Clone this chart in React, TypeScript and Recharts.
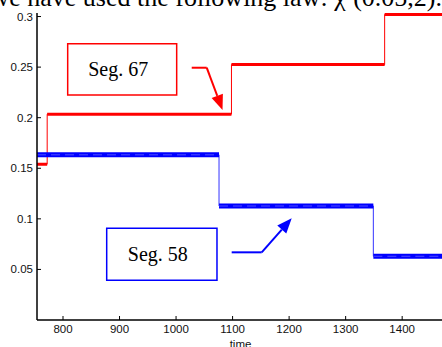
import { LineChart, Line, XAxis, YAxis, ReferenceArea, ReferenceLine } from 'recharts';

// step levels (time where each level starts, then the level)
const redTimes = [754, 772, 1098, 1369, 1474];
const redValues = [0.154, 0.2035, 0.2525, 0.302];
const blueTimes = [754, 1076, 1349, 1474];
const blueValues = [0.1633, 0.1127, 0.063];

const xTicks = [800, 900, 1000, 1100, 1200, 1300, 1400];
const yTicks = [0.05, 0.1, 0.15, 0.2, 0.25, 0.3];

const xDomain = [754, 1474];
const yDomain = [0, 0.3035];

type Pt = { t: number; v: number | null };

// thin connected staircase
function stepPoints(times: number[], values: number[]): Pt[] {
  const pts: Pt[] = values.map((v, i) => ({ t: times[i], v }));
  pts.push({ t: times[times.length - 1], v: values[values.length - 1] });
  return pts;
}

// thick flat pieces only, broken by nulls
function flatPieces(times: number[], values: number[]): Pt[] {
  const pts: Pt[] = [];
  values.forEach((v, i) => {
    pts.push({ t: times[i], v });
    pts.push({ t: times[i + 1], v });
    pts.push({ t: times[i + 1], v: null });
  });
  return pts;
}

const tickFont = { fontFamily: '"Liberation Sans", Arial, sans-serif', fontSize: 11.5, fill: '#111' };

function LeftTick({ x, y, payload }: any) {
  // axis sits 4px right of x (tickSize 0, tickMargin 4)
  return (
    <g>
      <line x1={x + 4} x2={x + 8} y1={y} y2={y} stroke="#000" />
      <text x={x} y={y} dy={4} textAnchor="end" {...tickFont}>{payload.value}</text>
    </g>
  );
}

function BottomTick({ x, y, payload }: any) {
  return (
    <g>
      <line x1={x} x2={x} y1={y - 9} y2={y - 13} stroke="#000" />
      <text x={x} y={y} dy={4} textAnchor="middle" {...tickFont}>{payload.value}</text>
    </g>
  );
}

function TopTick({ x, y }: any) {
  return <line x1={x} x2={x} y1={y} y2={y + 4} stroke="#000" />;
}

function RightTick({ x, y }: any) {
  return <line x1={x - 4} x2={x} y1={y} y2={y} stroke="#000" />;
}

function Arrow(props: any) {
  const { x1, y1, x2, y2, stroke } = props;
  const ang = Math.atan2(y2 - y1, x2 - x1);
  const len = 15;
  const half = 6;
  const bx = x2 - len * Math.cos(ang);
  const by = y2 - len * Math.sin(ang);
  const px = -Math.sin(ang) * half;
  const py = Math.cos(ang) * half;
  return (
    <g>
      <line x1={x1} y1={y1} x2={bx} y2={by} stroke={stroke} strokeWidth={2} />
      <polygon points={`${x2},${y2} ${bx + px},${by + py} ${bx - px},${by - py}`} fill={stroke} />
    </g>
  );
}

const boxLabel = { fontFamily: '"Liberation Serif", "Times New Roman", serif', fontSize: 20, fill: '#000', dx: -4 };

export default function App() {
  const redStep = stepPoints(redTimes, redValues);
  const redFlat = flatPieces(redTimes, redValues);
  const blueStep = stepPoints(blueTimes, blueValues);
  const blueFlat = flatPieces(blueTimes, blueValues);

  return (
    <div style={{ position: 'fixed', left: 0, top: 0, width: 442, height: 347, overflow: 'hidden', background: '#fff' }}>
      <svg width={442} height={20} style={{ position: 'absolute', left: 0, top: 0 }}>
        <text x={442} y={6} textAnchor="end" fontFamily='"Liberation Serif", "Times New Roman", serif' fontSize={26} fill="#000">
          we have used the following law: χ<tspan dy={-10} fontSize={15}>2</tspan><tspan dy={10}>(0.05,2).</tspan>
        </text>
      </svg>
      <div style={{ position: 'absolute', left: 0, top: 0 }}>
        <LineChart width={460} height={347} margin={{ top: 13, right: 16, bottom: 7, left: 0 }}>
          <XAxis
            dataKey="t"
            type="number"
            domain={xDomain}
            ticks={xTicks}
            allowDataOverflow
            height={20}
            tickSize={0}
            tickMargin={9}
            tick={<BottomTick />}
            axisLine={{ stroke: '#000', strokeWidth: 1.5 }}
            label={{ value: 'time', position: 'bottom', offset: 0, fontFamily: '"Liberation Sans", Arial, sans-serif', fontSize: 11.5, fill: '#111' }}
          />
          <XAxis
            xAxisId="top"
            orientation="top"
            dataKey="t"
            type="number"
            domain={xDomain}
            ticks={xTicks}
            allowDataOverflow
            height={0}
            tickSize={0}
            tickMargin={0}
            tick={<TopTick />}
            axisLine={{ stroke: '#000', strokeWidth: 1 }}
          />
          <YAxis
            type="number"
            domain={yDomain}
            ticks={yTicks}
            allowDataOverflow
            width={37}
            tickSize={0}
            tickMargin={4}
            tick={<LeftTick />}
            axisLine={{ stroke: '#000', strokeWidth: 1.5 }}
          />
          <YAxis
            yAxisId="right"
            orientation="right"
            type="number"
            domain={yDomain}
            ticks={yTicks}
            allowDataOverflow
            width={0}
            tickSize={0}
            tickMargin={0}
            tick={<RightTick />}
            axisLine={{ stroke: '#000', strokeWidth: 1 }}
          />

          <Line data={blueStep} dataKey="v" type="stepAfter" stroke="#3333ff" strokeWidth={1} dot={false} isAnimationActive={false} />
          <Line data={redStep} dataKey="v" type="stepAfter" stroke="#ff0000" strokeWidth={1} dot={false} isAnimationActive={false} />
          <Line data={blueFlat} dataKey="v" type="linear" stroke="#0000ff" strokeWidth={5} dot={false} isAnimationActive={false} />
          <Line data={blueFlat} dataKey="v" type="linear" stroke="#4d4dff" strokeWidth={1} strokeDasharray="9 5" dot={false} isAnimationActive={false} />
          <Line data={redFlat} dataKey="v" type="linear" stroke="#ff0000" strokeWidth={3} dot={false} isAnimationActive={false} />

          <ReferenceArea x1={808.3} x2={1001.1} y1={0.2224} y2={0.2732} fill="#fff" fillOpacity={1} stroke="#ff0000" strokeWidth={1.5} label={{ value: 'Seg. 67', position: 'center', ...boxLabel }} />
          <ReferenceLine segment={[{ x: 1027.7, y: 0.2494 }, { x: 1054.2, y: 0.2494 }]} stroke="#ff0000" strokeWidth={2} />
          <ReferenceLine segment={[{ x: 1054.2, y: 0.2494 }, { x: 1082.2, y: 0.2076 }]} stroke="#ff0000" shape={Arrow} />

          <ReferenceArea x1={877.3} x2={1072.4} y1={0.0392} y2={0.0907} fill="#fff" fillOpacity={1} stroke="#0000ff" strokeWidth={1.5} label={{ value: 'Seg. 58', position: 'center', ...boxLabel }} />
          <ReferenceLine segment={[{ x: 1098.4, y: 0.0669 }, { x: 1151.5, y: 0.0669 }]} stroke="#0000ff" strokeWidth={2} />
          <ReferenceLine segment={[{ x: 1151.5, y: 0.0669 }, { x: 1204.6, y: 0.1005 }]} stroke="#0000ff" shape={Arrow} />
        </LineChart>
      </div>
    </div>
  );
}
